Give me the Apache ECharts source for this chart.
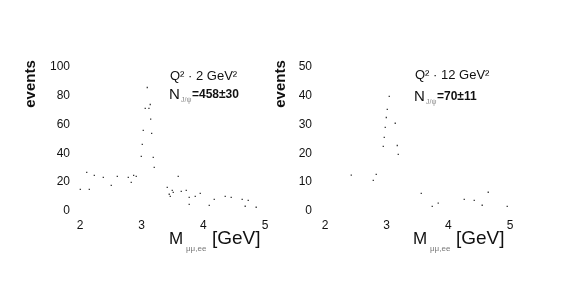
<!DOCTYPE html>
<html><head><meta charset="utf-8">
<script src="https://cdn.jsdelivr.net/npm/echarts@6/dist/echarts.min.js"></script>
<style>html,body{margin:0;padding:0;background:#fff}#c{width:568px;height:284px}</style>
</head><body><div id="c"></div>
<script>
// Left panel: Q^2 > 2 GeV^2  [mass GeV, events]
var massLeft = [3.091,3.139,3.058,3.118,3.146,3.026,3.162,3.010,2.994,3.188,3.204,
  2.109,2.232,2.378,2.605,2.783,2.870,2.912,2.831,2.507,2.005,2.151,
  3.593,3.415,3.496,3.512,3.447,3.464,3.642,3.723,3.771,3.771,3.869,3.950,
  4.096,4.177,4.355,4.452,4.630,4.728,4.679,4.857];
var eventsLeft = [85.6,73.8,71.1,71.1,63.7,55.9,53.8,46.2,37.9,37.2,30.2,
  26.8,24.7,23.3,24.0,23.3,24.7,24.0,19.9,17.8,15.0,15.0,
  24.0,16.4,14.3,12.9,11.6,10.2,13.6,14.3,9.5,4.6,10.2,12.2,
  3.9,8.1,10.2,9.5,8.1,7.4,3.3,2.6];
// Right panel: Q^2 > 12 GeV^2
var massRight = [3.042,3.010,2.994,3.139,2.977,2.961,2.945,3.172,3.188,
  2.426,2.831,2.783,3.561,3.739,3.836,4.258,4.420,4.647,4.549,4.955];
var eventsRight = [39.7,35.2,32.4,30.4,29.0,25.5,22.4,22.7,19.6,
  12.4,12.7,10.6,6.1,1.6,2.7,4.0,3.7,6.5,2.0,1.6];
var xTicks = [2,3,4,5];
var yTicksLeft = [0,20,40,60,80,100];
var yTicksRight = [0,10,20,30,40,50];
var labelsLeft = {q2:'Q² \u00b7 2 GeV²', n:'=458±30'};
var labelsRight = {q2:'Q² \u00b7 12 GeV²', n:'=70±11'};

function pairs(xs, ys){ return xs.map(function(x,i){return [x, ys[i]];}); }

var FONT = '"Liberation Sans", Arial, sans-serif';
var tickLabel = {color:'#111', fontSize:12, fontFamily:FONT};

function xAx(idx){
  return {gridIndex:idx, type:'value', min:xTicks[0], max:xTicks[xTicks.length-1], interval:1,
    axisLine:{show:false}, axisTick:{show:false}, splitLine:{show:false},
    axisLabel:Object.assign({margin:9}, tickLabel)};
}
function yAx(idx, ticks, margin){
  return {gridIndex:idx, type:'value', min:ticks[0], max:ticks[ticks.length-1], interval:ticks[1]-ticks[0],
    axisLine:{show:false}, axisTick:{show:false}, splitLine:{show:false},
    axisLabel:Object.assign({margin:margin}, tickLabel)};
}

function txt(x, y, text, font, fill){
  return {type:'text', x:x, y:y, silent:true,
    style:{text:text, font:font, fill:fill||'#111', verticalAlign:'middle'}};
}

var graphics = [
  // y axis names
  {type:'text', x:31, y:84, rotation:Math.PI/2, silent:true,
   style:{text:'events', font:'bold 15px '+FONT, fill:'#111', align:'center', verticalAlign:'middle'}},
  {type:'text', x:281, y:84, rotation:Math.PI/2, silent:true,
   style:{text:'events', font:'bold 15px '+FONT, fill:'#111', align:'center', verticalAlign:'middle'}},
  // x axis names
  txt(169, 239, 'M', '17px '+FONT),
  txt(186, 249, 'μμ,ee', '8px '+FONT, '#777'),
  txt(212, 239, '[GeV]', '19px '+FONT),
  txt(413, 239, 'M', '17px '+FONT),
  txt(430, 249, 'μμ,ee', '8px '+FONT, '#777'),
  txt(456, 239, '[GeV]', '19px '+FONT),
  // annotations left
  txt(170, 76, labelsLeft.q2, '13px '+FONT),
  txt(169, 95, 'N', '15px '+FONT),
  txt(181, 100, 'J/ψ', '7px '+FONT, '#888'),
  txt(192, 95, labelsLeft.n, 'bold 12px '+FONT),
  // annotations right
  txt(415, 75, labelsRight.q2, '13px '+FONT),
  txt(414, 97, 'N', '15px '+FONT),
  txt(426, 102, 'J/ψ', '7px '+FONT, '#888'),
  txt(437, 97, labelsRight.n, 'bold 12px '+FONT)
];

var chart = echarts.init(document.getElementById('c'), null, {renderer:'canvas'});
chart.setOption({
  animation:false,
  backgroundColor:'#fff',
  grid:[
    {left:80, top:66.7, width:185, height:144.3},
    {left:325, top:66.7, width:185, height:144.3}
  ],
  xAxis:[xAx(0), xAx(1)],
  yAxis:[yAx(0, yTicksLeft, 10), yAx(1, yTicksRight, 13)],
  series:[
    {type:'scatter', xAxisIndex:0, yAxisIndex:0, data:pairs(massLeft, eventsLeft),
     symbol:'rect', symbolSize:1.3, itemStyle:{color:'#000'}},
    {type:'scatter', xAxisIndex:1, yAxisIndex:1, data:pairs(massRight, eventsRight),
     symbol:'rect', symbolSize:1.3, itemStyle:{color:'#000'}}
  ],
  graphic:graphics
});
</script></body></html>
